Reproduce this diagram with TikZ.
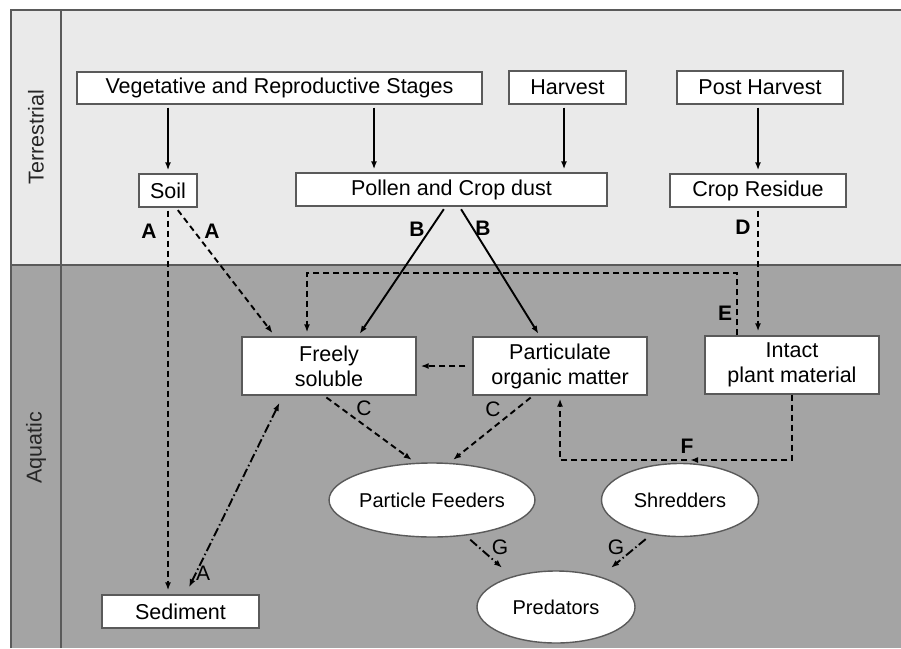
\documentclass[tikz,border=0pt]{standalone}
\usepackage{fontspec}
\setmainfont{Liberation Sans}
\usepackage{xcolor}
\usetikzlibrary{shapes.geometric}
\usetikzlibrary{arrows.meta}

\definecolor{landgray}{HTML}{EAEAEA}
\definecolor{watergray}{HTML}{A4A4A4}
\definecolor{framegray}{HTML}{5A5A5A}

\tikzset{
    stagebox/.style = {draw = framegray, line width = 1.4pt, fill = white, inner sep = 0pt,
        font = \fontsize{21.5}{25}\selectfont, align = center},
    eater/.style = {ellipse, draw = framegray, line width = 1.4pt, fill = white, inner sep = 0pt,
        font = \fontsize{20}{24}\selectfont},
    tip/.style = {-{Latex[length = 8pt, width = 6pt]}, line width = 1.9pt},
    solidflow/.style = {tip, shorten > = 3pt, shorten < = 3pt},
    dashflow/.style = {tip, dash pattern = on 6pt off 4pt, shorten > = 4pt, shorten < = 3pt},
    dotflow/.style = {tip, dash pattern = on 9pt off 3pt on 1.5pt off 3pt, shorten > = 4pt, shorten < = 3pt},
    tag/.style = {font = \fontsize{21}{24}\selectfont\bfseries, inner sep = 0pt},
    thintag/.style = {font = \fontsize{21}{24}\selectfont, inner sep = 0pt}
}

\begin{document}
\begin{tikzpicture}[x = 1pt, y = -1pt]
        \useasboundingbox (0, 0) rectangle (901, 648);

        \fill [landgray] (11, 10) rectangle (901, 265);
        \fill [watergray] (11, 265) rectangle (901, 648);
        \draw [framegray, line width = 1.4pt] (11, 648) -- (11, 10) -- (901, 10);
        \draw [framegray, line width = 1.4pt] (61, 10) -- (61, 648);
        \draw [framegray, line width = 1.4pt] (11, 265) -- (901, 265);

        \node [rotate = 90, font = \fontsize{21.5}{24}\selectfont, color = black!85] (terr) at (36, 137) {Terrestrial};
        \node [rotate = 90, font = \fontsize{21.5}{24}\selectfont, color = black!85] (aqua) at (36, 448) {Aquatic};

        \node [stagebox, minimum width = 405pt, minimum height = 32pt] (veg) at (279.5, 88) {Vegetative and Reproductive Stages};
        \node [stagebox, minimum width = 117pt, minimum height = 33pt] (harvest) at (567.5, 87.5) {Harvest};
        \node [stagebox, minimum width = 166pt, minimum height = 33pt] (post) at (760, 87.5) {Post Harvest};

        \node [stagebox, minimum width = 58pt, minimum height = 33pt] (soil) at (168, 190.5) {Soil};
        \node [stagebox, minimum width = 311pt, minimum height = 33pt] (pollen) at (451.5, 189.5) {Pollen and Crop dust};
        \node [stagebox, minimum width = 176pt, minimum height = 33pt] (residue) at (758, 190.5) {Crop Residue};

        \node [stagebox, minimum width = 174pt, minimum height = 58pt] (soluble) at (329, 366) {Freely\\soluble};
        \node [stagebox, minimum width = 174pt, minimum height = 58pt] (organic) at (560, 366) {Particulate\\organic matter};
        \node [stagebox, minimum width = 174pt, minimum height = 58pt] (intact) at (792, 365) {Intact\\plant material};
        \node [stagebox, minimum width = 157pt, minimum height = 33pt] (sediment) at (180.5, 611.5) {Sediment};

        \node [eater, minimum width = 158pt, minimum height = 74pt] (feeders) at (432, 500) {Particle Feeders};
        \node [eater, minimum width = 157pt, minimum height = 73pt] (shredders) at (680, 500) {Shredders};
        \node [eater, minimum width = 158pt, minimum height = 72pt] (predators) at (556, 607) {Predators};

        \coordinate (vegdrop) at (374, 189);
        \coordinate (harvdrop) at (564, 189);
        \coordinate (eturn) at (737, 273);
        \coordinate (fturn) at (690, 460);

        \draw [solidflow] (soil.north |- veg.south) -- (soil.north);
        \draw [solidflow] (vegdrop |- veg.south) -- (vegdrop |- pollen.north);
        \draw [solidflow] (harvdrop |- harvest.south) -- (harvdrop |- pollen.north);
        \draw [solidflow] (residue.north |- post.south) -- (residue.north);

        \draw [dashflow] (soil.south) -- (soil.south |- sediment.north);
        \draw [dashflow] ([xshift = 8pt]soil.south) -- ([xshift = -54pt]soluble.north);
        \draw [solidflow] ([xshift = -6pt]pollen.south) -- ([xshift = 29pt]soluble.north);
        \draw [solidflow] ([xshift = 8pt]pollen.south) -- ([xshift = -20pt]organic.north);
        \draw [dashflow] (residue.south) -- (residue.south |- intact.north);
        \draw [dashflow, shorten < = 0pt] ([xshift = -55pt]intact.north) -- (eturn) -| ([xshift = -22pt]soluble.north);
        \draw [dashflow, shorten < = 7pt] (organic.west) -- (soluble.east);

        \draw [dashflow] ([xshift = -5pt]soluble.south) -- ([xshift = -17pt]feeders.north);
        \draw [dashflow] ([xshift = -27pt]organic.south) -- ([xshift = 18pt]feeders.north);
        \draw [dashflow, shorten < = 0pt, shorten > = 0pt] (intact.south) |- (fturn);
        \draw [dashflow, shorten > = 3pt] (fturn) -| (organic.south);

        \draw [dotflow] ([xshift = 36pt]feeders.south) -- ([xshift = -51pt]predators.north);
        \draw [dotflow] ([xshift = -32pt]shredders.south) -- ([xshift = 52pt]predators.north);
        \draw [dotflow, {Latex[length = 8pt, width = 6pt]}-{Latex[length = 8pt, width = 6pt]}, shorten < = 8pt, shorten > = 8pt]
            ([xshift = 5pt]sediment.north) -- ([xshift = -46pt]soluble.south);

        \node [tag] (aone) at (149, 231) {A};
        \node [tag] (atwo) at (212, 231) {A};
        \node [tag] (bone) at (417, 229) {B};
        \node [tag] (btwo) at (483, 228) {B};
        \node [tag] (dlab) at (743, 227) {D};
        \node [tag] (elab) at (725, 313) {E};
        \node [thintag] (cone) at (364, 408) {C};
        \node [thintag] (ctwo) at (493, 409) {C};
        \node [tag] (flab) at (687, 446) {F};
        \node [thintag] (gone) at (500, 547) {G};
        \node [thintag] (gtwo) at (616, 547) {G};
        \node [thintag] (athree) at (203, 573) {A};
    \end{tikzpicture}
\end{document}
